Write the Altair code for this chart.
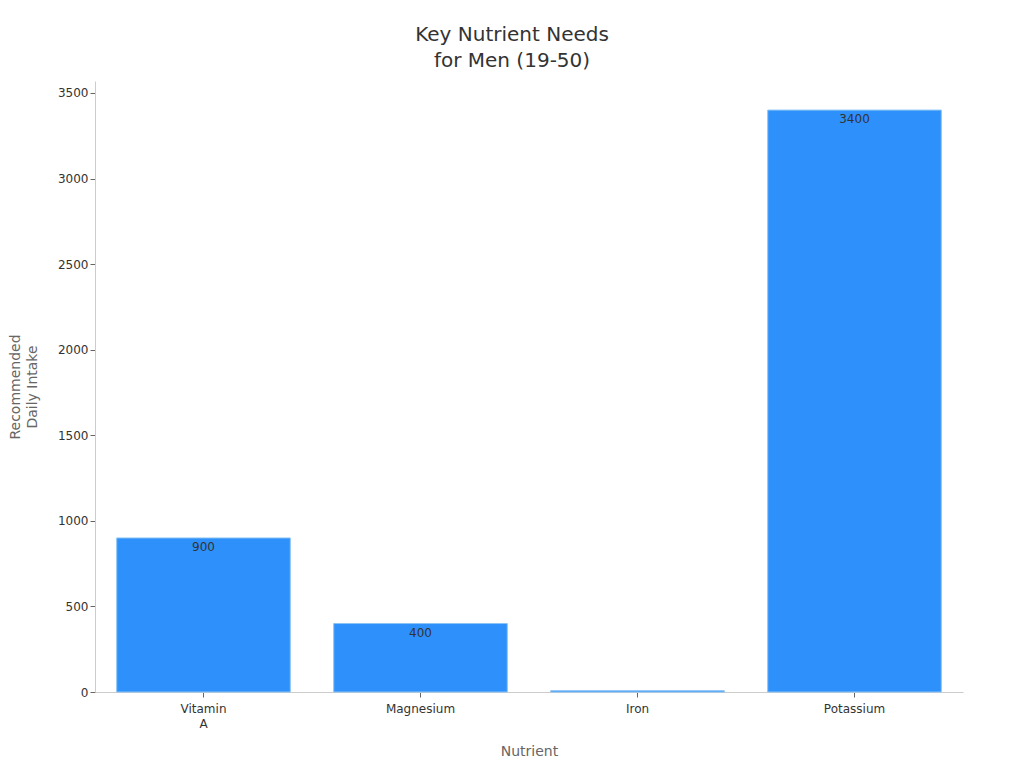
import altair as alt
import pandas as pd

nutrients = ["Vitamin A", "Magnesium", "Iron", "Potassium"]
values = [900, 400, 8, 3400]
show_label = [True, True, False, True]

df = pd.DataFrame({"Nutrient": nutrients, "Value": values, "Show": show_label})

FONT = "DejaVu Sans"

base = alt.Chart(df).encode(
    x=alt.X("Nutrient:N", sort=nutrients,
            scale=alt.Scale(paddingInner=0.2, paddingOuter=0.1),
            axis=alt.Axis(title="Nutrient", labelAngle=0, labelExpr="split(datum.label, ' ')",
                          labelFontSize=12, labelColor="#333", titleFontSize=14,
                          titleColor="#666", titleFontWeight="normal", titlePadding=15,
                          domainColor="#ccc", tickColor="#666", tickSize=5, labelPadding=6,
                          labelFont=FONT, titleFont=FONT, labelLineHeight=15)),
    y=alt.Y("Value:Q", scale=alt.Scale(domain=[0, 3570], nice=False),
            axis=alt.Axis(title=["Recommended", "Daily Intake"], values=[0, 500, 1000, 1500, 2000, 2500, 3000, 3500],
                          format="d",
                          labelFontSize=12, labelColor="#333", titleFontSize=14,
                          titleColor="#666", titleFontWeight="normal", titlePadding=18,
                          titleLineHeight=17,
                          domainColor="#ccc", tickColor="#666", tickSize=5, grid=False,
                          labelFont=FONT, titleFont=FONT)),
)

bars = base.mark_bar(color="#2E90FA", stroke="#8cc4f5", strokeWidth=1)
labels = base.transform_filter("datum.Show").mark_text(
    baseline="top", dy=4, fontSize=12, color="#333", font=FONT
).encode(text=alt.Text("Value:Q", format="d"))

chart = (bars + labels).properties(
    width=868, height=611,
    autosize=alt.AutoSizeParams(type="none"),
    padding={"left": 87, "top": 73, "right": 45, "bottom": 68},
    title=alt.TitleParams(["Key Nutrient Needs", "for Men (19-50)"], fontSize=20,
                          fontWeight="normal", color="#333", font=FONT, anchor="middle",
                          frame="group", dx=-17, offset=10, lineHeight=26)
).configure_view(stroke=None)

chart.save("out.html", embed_options={"renderer": "svg", "actions": False})
